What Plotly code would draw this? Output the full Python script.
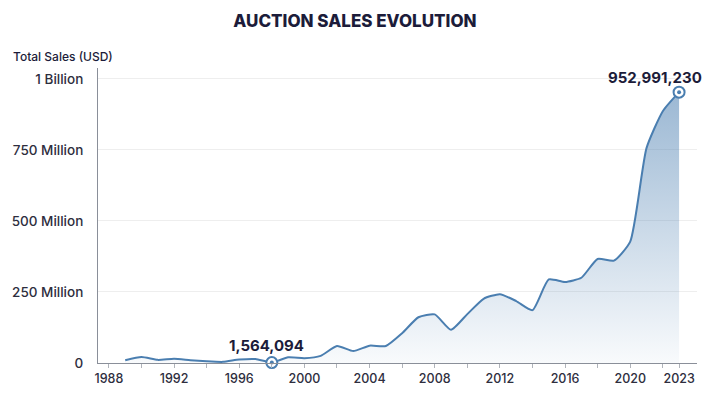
import plotly.graph_objects as go

years = list(range(1989, 2024))
sales = [10e6, 21e6, 11e6, 15e6, 10e6, 6e6, 4e6, 12e6, 14e6, 1564094,
         20e6, 17e6, 25e6, 60e6, 42e6, 61e6, 60e6, 105e6, 161e6, 171e6,
         117e6, 172e6, 226e6, 242e6, 218e6, 186e6, 294e6, 285e6, 300e6, 366e6,
         360e6, 427e6, 756e6, 886e6, 952991230]

highlight_years = [1998, 2023]
highlight_vals = [1564094, 952991230]
highlight_text = ["1,564,094", "952,991,230"]

y_tickvals = [0, 250e6, 500e6, 750e6, 1e9]
y_ticktext = ["0", "250 Million", "500 Million", "750 Million", "1 Billion"]

x_tickvals = list(range(1988, 2023, 2)) + [2023]
x_ticktext = [str(v) if v % 4 == 0 else "" for v in range(1988, 2023, 2)] + ["2023"]

LINE = "#4a7eb0"
DARK = "#1c1c3a"
TICK = "#2e2e3e"
FONT = "Inter"

fig = go.Figure()
fig.add_trace(go.Scatter(
    x=years, y=sales, mode="lines",
    line=dict(color=LINE, width=2, shape="spline", smoothing=0.55),
    fill="tozeroy",
    fillgradient=dict(type="vertical", start=0, stop=952991230,
                      colorscale=[[0, "rgba(74,126,176,0.03)"],
                                  [1, "rgba(74,126,176,0.55)"]]),
    hoverinfo="skip", showlegend=False,
))
fig.add_trace(go.Scatter(
    x=highlight_years, y=highlight_vals, mode="markers",
    marker=dict(size=11, color="white", line=dict(color=LINE, width=2)),
    hoverinfo="skip", showlegend=False, cliponaxis=False,
))
fig.add_trace(go.Scatter(
    x=highlight_years, y=highlight_vals, mode="markers",
    marker=dict(size=4, color=LINE),
    hoverinfo="skip", showlegend=False, cliponaxis=False,
))

fig.add_annotation(x=highlight_years[0], y=highlight_vals[0], text=highlight_text[0],
                   showarrow=False, yshift=17, xshift=-5,
                   font=dict(family=FONT, size=15, color=DARK, weight=700))
fig.add_annotation(x=highlight_years[1], y=highlight_vals[1], text=highlight_text[1],
                   showarrow=False, yshift=15, xshift=-24,
                   font=dict(family=FONT, size=15, color=DARK, weight=700))

fig.update_layout(
    width=720, height=398,
    margin=dict(l=91, r=23, t=68, b=32),
    paper_bgcolor="white", plot_bgcolor="white",
    font=dict(family=FONT, color=TICK),
    title=dict(text="AUCTION SALES EVOLUTION", x=0.493, xanchor="center",
               y=0.947, yanchor="middle",
               font=dict(family=FONT, size=17, color=DARK, weight=800)),
    annotations=list(fig.layout.annotations) + [dict(
        text="Total Sales (USD)", xref="paper", yref="paper",
        x=-88/606, y=(398-56-32)/298, xanchor="left", yanchor="middle",
        showarrow=False, font=dict(family=FONT, size=12, color=DARK, weight=500))],
)
fig.update_xaxes(
    range=[1987.33, 2024.1], tickvals=x_tickvals, ticktext=x_ticktext,
    showgrid=False, zeroline=False, showline=True, linecolor="#8a8f99", linewidth=1,
    ticks="outside", ticklen=4, tickcolor="#b0b4bb",
    tickfont=dict(family=FONT, size=12.5, color=TICK, weight=500),
)
fig.update_yaxes(
    range=[0, 1.038e9], tickvals=y_tickvals, ticktext=y_ticktext,
    showgrid=True, gridcolor="#eeeeee", zeroline=False,
    showline=True, linecolor="#8a8f99", linewidth=1,
    ticks="", ticklabelstandoff=11,
    tickfont=dict(family=FONT, size=13.5, color=TICK, weight=500),
)

fig.write_html("out.html", config={"displayModeBar": False},
               post_script="document.body.style.margin='0';document.body.style.overflow='hidden';")
